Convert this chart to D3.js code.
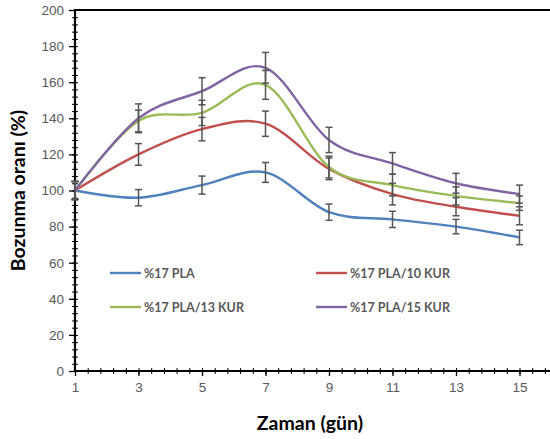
<!DOCTYPE html>
<html>
<head>
<meta charset="utf-8">
<script src="https://cdn.jsdelivr.net/npm/d3@7"></script>
<style>
  html, body { margin: 0; padding: 0; background: #fff; }
  svg { display: block; font-family: Lato, "Open Sans", sans-serif; }
</style>
</head>
<body>
<svg id="chart" width="550" height="439"></svg>
<script>
// Degradation ratio (%) over time (days) for four PLA formulations
const days = [1, 3, 5, 7, 9, 11, 13, 15];
const seriesNames = ["%17 PLA", "%17 PLA/10 KUR", "%17 PLA/13 KUR", "%17 PLA/15 KUR"];
const seriesColors = ["#4F81BD", "#C0504D", "#9BBB59", "#8064A2"];
const pla   = [100, 96, 103, 110, 88, 84, 80, 74];
const pla10 = [100, 120, 134, 137, 112, 98, 91, 86];
const pla13 = [100, 138.5, 143, 158.5, 113, 103, 97, 93];
const pla15 = [100, 140, 155, 168, 128, 115, 104, 98];
const plaErr   = [5, 4.5, 5, 5.5, 4.5, 4.5, 4, 4];
const pla10Err = [5, 6, 6.5, 7, 6, 6, 5, 5];
const pla13Err = [5, 6, 7, 8, 6, 6, 5, 4];
const pla15Err = [5, 8, 7.5, 8.5, 7, 6, 5.5, 5];
const xTicks = [1, 3, 5, 7, 9, 11, 13, 15];
const yTicks = [0, 20, 40, 60, 80, 100, 120, 140, 160, 180, 200];

const seriesValues = [pla, pla10, pla13, pla15];
const seriesErrors = [plaErr, pla10Err, pla13Err, pla15Err];

const svg = d3.select("#chart");
const x = d3.scaleLinear().domain([1, 17]).range([75, 583]);
const y = d3.scaleLinear().domain([0, 200]).range([371, 10]);

// minor ticks
const xMinor = d3.range(1, 17.01, 0.4).map(v => +v.toFixed(2));
const yMinor = d3.range(0, 200.01, 4);

svg.append("g")
  .attr("transform", `translate(${x.range()[0]},0)`)
  .call(d3.axisLeft(y).tickValues(yMinor).tickSize(3).tickFormat(""))
  .call(g => g.select(".domain").remove())
  .call(g => g.selectAll("line").attr("stroke", "#000").attr("stroke-width", 1).attr("x2", 3).attr("x1", -3));

svg.append("g")
  .attr("transform", `translate(0,${y(0)})`)
  .call(d3.axisBottom(x).tickValues(xMinor).tickSize(3).tickFormat(""))
  .call(g => g.select(".domain").remove())
  .call(g => g.selectAll("line").attr("stroke", "#000").attr("stroke-width", 1).attr("y1", -3).attr("y2", 3));

// major axes
const yAxis = svg.append("g")
  .attr("transform", `translate(${x.range()[0]},0)`)
  .call(d3.axisLeft(y).tickValues(yTicks).tickSize(6).tickPadding(5));
yAxis.select(".domain").remove();
yAxis.selectAll("line").attr("stroke", "#000").attr("stroke-width", 1.3);
yAxis.selectAll("text").attr("fill", "#595959").style("font-size", "13.5px");

const xAxis = svg.append("g")
  .attr("transform", `translate(0,${y(0)})`)
  .call(d3.axisBottom(x).tickValues(xTicks).tickSize(5).tickPadding(6));
xAxis.select(".domain").remove();
xAxis.selectAll("line").attr("stroke", "#000").attr("stroke-width", 1.3);
xAxis.selectAll("text").attr("fill", "#595959").style("font-size", "13.5px");

// frame lines: left, bottom, top
svg.append("line").attr("x1", x(1)).attr("x2", x(1)).attr("y1", y(200)).attr("y2", y(0))
  .attr("stroke", "#000").attr("stroke-width", 2.2);
svg.append("line").attr("x1", x(1) - 1).attr("x2", 550).attr("y1", y(0)).attr("y2", y(0))
  .attr("stroke", "#000").attr("stroke-width", 2.2);
svg.append("line").attr("x1", x(1) - 1).attr("x2", 550).attr("y1", y(200)).attr("y2", y(200))
  .attr("stroke", "#000").attr("stroke-width", 2.2);

// smoothed series lines
const line = d3.line()
  .x((d, i) => x(days[i]))
  .y(d => y(d))
  .curve(d3.curveCatmullRom.alpha(0));

seriesValues.forEach((vals, s) => {
  svg.append("path")
    .datum(vals)
    .attr("fill", "none")
    .attr("stroke", seriesColors[s])
    .attr("stroke-width", 2.4)
    .attr("d", line);
});

// error bars
const cap = 3.5;
seriesValues.forEach((vals, s) => {
  const g = svg.append("g").attr("stroke", "#555").attr("stroke-width", 1.5);
  vals.forEach((v, i) => {
    const e = seriesErrors[s][i];
    const cx = x(days[i]);
    g.append("line").attr("x1", cx).attr("x2", cx).attr("y1", y(v + e)).attr("y2", y(v - e));
    g.append("line").attr("x1", cx - cap).attr("x2", cx + cap).attr("y1", y(v + e)).attr("y2", y(v + e));
    g.append("line").attr("x1", cx - cap).attr("x2", cx + cap).attr("y1", y(v - e)).attr("y2", y(v - e));
  });
});

// legend (two columns, two rows)
const legendPos = [[110, 273], [316, 273], [110, 307], [316, 307]];
seriesNames.forEach((name, s) => {
  const [lx, ly] = legendPos[s];
  svg.append("line").attr("x1", lx).attr("x2", lx + 31).attr("y1", ly).attr("y2", ly)
    .attr("stroke", seriesColors[s]).attr("stroke-width", 2.4);
  svg.append("text").attr("x", lx + 34).attr("y", ly + 4.5)
    .attr("fill", "#595959").style("font-size", "12.5px").style("font-weight", "bold")
    .text(name);
});

// axis titles
svg.append("text")
  .attr("transform", `translate(25,${(y(0) + y(200)) / 2}) rotate(-90)`)
  .attr("text-anchor", "middle")
  .style("font-size", "19.5px").style("font-weight", "bold").attr("fill", "#000")
  .text("Bozunma oranı (%)");

svg.append("text")
  .attr("x", 310).attr("y", 430)
  .attr("text-anchor", "middle")
  .style("font-size", "19.5px").style("font-weight", "bold").attr("fill", "#000")
  .text("Zaman (gün)");
</script>
</body>
</html>
